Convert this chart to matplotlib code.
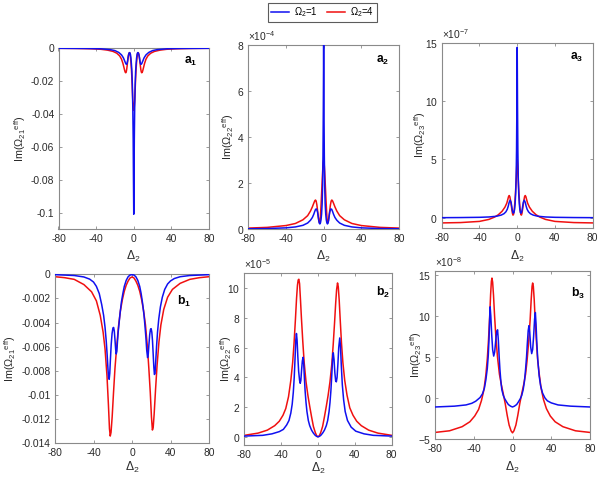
import matplotlib
matplotlib.use("Agg")
import matplotlib.pyplot as plt
from matplotlib.ticker import FixedLocator, FuncFormatter

plt.rcParams['font.family'] = ['Liberation Sans', 'DejaVu Sans']
plt.rcParams['mathtext.fontset'] = 'custom'
plt.rcParams['mathtext.rm'] = 'Liberation Sans'
plt.rcParams['mathtext.it'] = 'Liberation Sans:italic'
plt.rcParams['mathtext.bf'] = 'Liberation Sans:bold'
plt.rcParams['axes.unicode_minus'] = False

# ---------------- data ----------------
x_ticks = [-80, -40, 0, 40, 80]
series_labels = [r'$\Omega_2$=1', r'$\Omega_2$=4']

# a1 : Im(Omega21 eff)
a1_blue = [(-80, 0), (-50, -0.0001), (-35, -0.0003), (-25, -0.0008), (-20, -0.0014), (-16, -0.0025),
           (-13, -0.0040), (-11, -0.0058), (-10, -0.0072), (-9, -0.0086), (-8.5, -0.0093), (-8, -0.0097),
           (-7.5, -0.0097), (-7, -0.0090), (-6.5, -0.0075), (-6, -0.0056), (-5.5, -0.0040), (-5, -0.0030),
           (-4.5, -0.0026), (-4, -0.0028), (-3.5, -0.0038), (-3, -0.0060), (-2.5, -0.0095), (-2, -0.0140),
           (-1.5, -0.0220), (-1, -0.0360), (-0.6, -0.0550), (-0.3, -0.0800), (0, -0.1010),
           (0.3, -0.0800), (0.6, -0.0550), (1, -0.0360), (1.5, -0.0220), (2, -0.0140), (2.5, -0.0095),
           (3, -0.0060), (3.5, -0.0038), (4, -0.0028), (4.5, -0.0026), (5, -0.0030), (5.5, -0.0040),
           (6, -0.0056), (6.5, -0.0075), (7, -0.0090), (7.5, -0.0097), (8, -0.0097), (8.5, -0.0093),
           (9, -0.0086), (10, -0.0072), (11, -0.0058), (13, -0.0040), (16, -0.0025), (20, -0.0014),
           (25, -0.0008), (35, -0.0003), (50, -0.0001), (80, 0)]
a1_red = [(-80, 0), (-60, -0.0001), (-45, -0.0003), (-35, -0.0006), (-28, -0.0011), (-22, -0.0019),
          (-18, -0.0030), (-15, -0.0046), (-13, -0.0066), (-11.5, -0.0092), (-10.5, -0.0115), (-9.5, -0.0138),
          (-9, -0.0146), (-8.5, -0.0149), (-8, -0.0144), (-7.5, -0.0128), (-7, -0.0105), (-6.5, -0.0078),
          (-6, -0.0055), (-5.5, -0.0038), (-5, -0.0029), (-4.5, -0.0027), (-4, -0.0033), (-3.5, -0.0055),
          (-3, -0.0085), (-2.5, -0.0125), (-2, -0.0180), (-1.5, -0.0250), (-1, -0.0320), (-0.5, -0.0360),
          (0, -0.0378),
          (0.5, -0.0360), (1, -0.0320), (1.5, -0.0250), (2, -0.0180), (2.5, -0.0125), (3, -0.0085),
          (3.5, -0.0055), (4, -0.0033), (4.5, -0.0027), (5, -0.0029), (5.5, -0.0038), (6, -0.0055),
          (6.5, -0.0078), (7, -0.0105), (7.5, -0.0128), (8, -0.0144), (8.5, -0.0149), (9, -0.0146),
          (9.5, -0.0138), (10.5, -0.0115), (11.5, -0.0092), (13, -0.0066), (15, -0.0046), (18, -0.0030),
          (22, -0.0019), (28, -0.0011), (35, -0.0006), (45, -0.0003), (60, -0.0001), (80, 0)]

# a2 : Im(Omega22 eff), units of 1e-4
a2_scale = 1e-4
a2_blue = [(-80, 0.01), (-60, 0.02), (-40, 0.05), (-30, 0.09), (-22, 0.16), (-17, 0.26), (-14, 0.38),
           (-12, 0.50), (-10.5, 0.64), (-9.5, 0.76), (-8.5, 0.86), (-7.5, 0.87), (-6.5, 0.74), (-5.8, 0.55),
           (-5.2, 0.37), (-4.6, 0.25), (-4, 0.22), (-3.4, 0.27), (-2.8, 0.40), (-2.2, 0.65), (-1.6, 1.1),
           (-1.1, 1.9), (-0.7, 3.2), (-0.35, 5.2), (0, 8.0),
           (0.35, 5.2), (0.7, 3.2), (1.1, 1.9), (1.6, 1.1), (2.2, 0.65), (2.8, 0.40), (3.4, 0.27), (4, 0.22),
           (4.6, 0.25), (5.2, 0.37), (5.8, 0.55), (6.5, 0.74), (7.5, 0.87), (8.5, 0.86), (9.5, 0.76),
           (10.5, 0.64), (12, 0.50), (14, 0.38), (17, 0.26), (22, 0.16), (30, 0.09), (40, 0.05), (60, 0.02),
           (80, 0.01)]
a2_red = [(-80, 0.04), (-60, 0.07), (-40, 0.15), (-30, 0.24), (-22, 0.40), (-17, 0.58), (-14, 0.78),
          (-12, 0.96), (-10.5, 1.12), (-9.5, 1.22), (-8.7, 1.26), (-8, 1.22), (-7.2, 1.05), (-6.4, 0.78),
          (-5.6, 0.50), (-5, 0.34), (-4.5, 0.28), (-4, 0.32), (-3.5, 0.50), (-3, 0.85), (-2.5, 1.25),
          (-2, 1.70), (-1.5, 2.15), (-1, 2.55), (-0.5, 2.88), (0, 3.0),
          (0.5, 2.88), (1, 2.55), (1.5, 2.15), (2, 1.70), (2.5, 1.25), (3, 0.85), (3.5, 0.50), (4, 0.32),
          (4.5, 0.28), (5, 0.34), (5.6, 0.50), (6.4, 0.78), (7.2, 1.05), (8, 1.22), (8.7, 1.26), (9.5, 1.22),
          (10.5, 1.12), (12, 0.96), (14, 0.78), (17, 0.58), (22, 0.40), (30, 0.24), (40, 0.15), (60, 0.07),
          (80, 0.04)]

# a3 : Im(Omega23 eff), units of 1e-7
a3_scale = 1e-7
a3_blue = [(-80, 0.0), (-60, 0.01), (-40, 0.03), (-30, 0.06), (-22, 0.12), (-17, 0.22), (-14, 0.34),
           (-12, 0.50), (-10.5, 0.72), (-9.5, 0.98), (-8.5, 1.32), (-7.5, 1.50), (-6.5, 1.32), (-5.8, 0.98),
           (-5.2, 0.65), (-4.6, 0.45), (-4, 0.38), (-3.4, 0.45), (-2.8, 0.70), (-2.2, 1.2), (-1.6, 2.1),
           (-1.1, 3.5), (-0.7, 5.8), (-0.35, 9.5), (0, 14.6),
           (0.35, 9.5), (0.7, 5.8), (1.1, 3.5), (1.6, 2.1), (2.2, 1.2), (2.8, 0.70), (3.4, 0.45), (4, 0.38),
           (4.6, 0.45), (5.2, 0.65), (5.8, 0.98), (6.5, 1.32), (7.5, 1.50), (8.5, 1.32), (9.5, 0.98),
           (10.5, 0.72), (12, 0.50), (14, 0.34), (17, 0.22), (22, 0.12), (30, 0.06), (40, 0.03), (60, 0.01),
           (80, 0.0)]
a3_red = [(-80, -0.45), (-60, -0.42), (-40, -0.32), (-30, -0.15), (-24, 0.05), (-20, 0.25), (-16, 0.55),
          (-13, 0.90), (-11, 1.25), (-10, 1.55), (-9.2, 1.80), (-8.5, 1.90), (-7.8, 1.80), (-7, 1.45),
          (-6.2, 1.00), (-5.5, 0.60), (-5, 0.35), (-4.5, 0.22), (-4, 0.25), (-3.5, 0.45), (-3, 0.80),
          (-2.5, 1.30), (-2, 1.90), (-1.5, 2.6), (-1, 3.4), (-0.5, 4.4), (0, 5.0),
          (0.5, 4.4), (1, 3.4), (1.5, 2.6), (2, 1.90), (2.5, 1.30), (3, 0.80), (3.5, 0.45), (4, 0.25),
          (4.5, 0.22), (5, 0.35), (5.5, 0.60), (6.2, 1.00), (7, 1.45), (7.8, 1.80), (8.5, 1.90), (9.2, 1.80),
          (10, 1.55), (11, 1.25), (13, 0.90), (16, 0.55), (20, 0.25), (24, 0.05), (30, -0.15), (40, -0.32),
          (60, -0.42), (80, -0.45)]

# b1 : Im(Omega21 eff), units of 1e-3
b1_scale = 1e-3
b1_blue = [(-80, -0.03), (-60, -0.1), (-50, -0.22), (-44, -0.4), (-40, -0.64), (-37, -1.0), (-34, -1.6),
           (-31.5, -2.5), (-29.5, -3.4), (-28, -4.4), (-26.8, -5.5), (-25.8, -6.7), (-25, -7.8), (-24.3, -8.6),
           (-23.7, -8.7), (-23.1, -8.2), (-22.4, -7.0), (-21.6, -5.8), (-20.7, -4.9), (-19.8, -4.45),
           (-19.1, -4.4), (-18.4, -4.7), (-17.7, -5.4), (-17.0, -6.2), (-16.4, -6.6), (-15.8, -6.4),
           (-15.2, -5.7), (-14.5, -4.9), (-13.5, -4.1), (-12.5, -3.3), (-11, -2.3), (-9.5, -1.6), (-8, -1.0),
           (-6, -0.5), (-4, -0.2), (-2, -0.06), (0, -0.03),
           (2, -0.06), (4, -0.2), (6, -0.5), (8, -1.0), (9.5, -1.6), (11, -2.4), (12.5, -3.4), (13.5, -4.3),
           (14.5, -5.3), (15.3, -6.3), (16.2, -6.9), (16.9, -6.6), (17.6, -5.8), (18.4, -5.0), (19.2, -4.55),
           (19.9, -4.5), (20.6, -4.8), (21.3, -5.5), (22.0, -6.6), (22.7, -7.7), (23.3, -8.3), (23.9, -8.2),
           (24.6, -7.3), (25.5, -6.0), (26.5, -4.8), (27.8, -3.7), (29.5, -2.7), (31.5, -1.9), (34, -1.25),
           (37, -0.8), (40, -0.55), (44, -0.35), (50, -0.2), (60, -0.1), (80, -0.03)]
b1_red = [(-80, -0.2), (-70, -0.28), (-60, -0.42), (-50, -0.85), (-42, -1.45), (-37, -2.2), (-33, -3.4),
          (-30, -4.8), (-28, -6.2), (-26, -8.4), (-24.5, -10.8), (-23.4, -12.8), (-22.6, -13.4),
          (-21.8, -13.1), (-20.6, -11.8), (-19.2, -9.8), (-17.7, -7.8), (-16, -6.1), (-14, -4.3), (-12, -3.0),
          (-10, -2.1), (-8, -1.4), (-6, -0.9), (-4, -0.55), (-2, -0.3), (0, -0.22),
          (2, -0.3), (4, -0.55), (6, -0.9), (8, -1.4), (10, -2.1), (12, -3.0), (14, -4.2), (16, -6.0),
          (17.5, -7.8), (19, -9.8), (20.2, -11.8), (21.2, -12.9), (22, -12.7), (23, -11.6), (24.5, -9.5),
          (26, -7.6), (28, -5.6), (30, -4.2), (33, -2.9), (37, -1.9), (42, -1.25), (50, -0.75), (60, -0.42),
          (70, -0.28), (80, -0.2)]

# b2 : Im(Omega22 eff), units of 1e-5
b2_scale = 1e-5
b2_blue = [(-80, 0.05), (-60, 0.1), (-50, 0.2), (-42, 0.35), (-37.6, 0.5), (-34, 0.8), (-31.5, 1.1),
           (-29.5, 1.6), (-28, 2.2), (-26.8, 3.0), (-25.8, 4.0), (-24.9, 5.3), (-24.1, 6.5), (-23.4, 6.95),
           (-22.7, 6.5), (-21.9, 5.4), (-21, 4.4), (-20, 3.8), (-19.3, 3.6), (-18.6, 3.8), (-17.8, 4.5),
           (-17, 5.1), (-16.2, 5.35), (-15.5, 4.9), (-14.8, 4.0), (-14, 3.1), (-13, 2.3), (-12, 1.7),
           (-10.5, 1.1), (-9, 0.75), (-7, 0.45), (-5, 0.25), (-3, 0.1), (-1.5, 0.03), (0, 0.0),
           (1.5, 0.03), (3, 0.1), (5, 0.25), (7, 0.45), (9, 0.75), (10.5, 1.1), (12, 1.7), (13, 2.3), (14, 3.1),
           (15, 4.2), (15.8, 5.2), (16.6, 5.65), (17.4, 5.2), (18.3, 4.3), (19.2, 3.75), (19.9, 3.7),
           (20.7, 4.0), (21.6, 4.9), (22.5, 6.0), (23.6, 6.65), (24.4, 6.1), (25.3, 4.8), (26.4, 3.5),
           (27.8, 2.5), (29.5, 1.7), (32, 1.1), (36, 0.65), (41, 0.38), (50, 0.2), (60, 0.1), (80, 0.05)]
b2_red = [(-80, 0.1), (-65, 0.25), (-55, 0.45), (-47, 0.75), (-42, 1.05), (-38, 1.45), (-35, 1.9), (-32, 2.7),
          (-29.5, 3.8), (-27.5, 5.0), (-26, 6.3), (-24.5, 7.9), (-23.3, 9.3), (-22.3, 10.2), (-21.5, 10.55),
          (-20.8, 10.6), (-20, 10.3), (-19, 9.2), (-18, 8.0), (-16.5, 6.4), (-15, 5.0), (-13, 3.7), (-11, 2.8),
          (-9, 2.05), (-7, 1.35), (-5, 0.7), (-3, 0.3), (-1.5, 0.08), (0, 0.0),
          (1.5, 0.08), (3, 0.3), (5, 0.7), (7, 1.35), (9, 2.05), (11, 2.8), (13, 3.7), (15, 4.9), (16.5, 6.2),
          (18, 7.7), (19.2, 9.0), (20.2, 9.9), (21.2, 10.35), (22, 10.1), (23, 9.2), (24, 8.0), (25.5, 6.3),
          (27, 5.0), (29, 3.8), (31.5, 2.8), (34.5, 1.95), (38, 1.45), (42, 1.05), (47, 0.75), (55, 0.45),
          (65, 0.25), (80, 0.1)]

# b3 : Im(Omega23 eff), units of 1e-8
b3_scale = 1e-8
b3_blue = [(-80, -1.1), (-60, -1.0), (-48, -0.85), (-42, -0.65), (-38, -0.4), (-35.5, -0.15), (-33.5, 0.05),
           (-31, 0.5), (-29, 1.2), (-27.5, 2.2), (-26, 3.6), (-25, 5.2), (-24.2, 7.3), (-23.6, 9.6),
           (-23.1, 11.1), (-22.4, 10.0), (-21.5, 7.8), (-20.5, 5.9), (-19.4, 5.1), (-18.4, 5.6), (-17.3, 7.0),
           (-16.3, 8.1), (-15.4, 8.3), (-14.6, 7.0), (-13.8, 5.1), (-13, 3.5), (-12, 2.0), (-11, 1.0),
           (-9.5, 0.3), (-8, -0.1), (-6, -0.5), (-4.3, -0.8), (-2, -1.0), (0, -1.1),
           (2, -1.0), (4.3, -0.8), (6, -0.5), (8, -0.1), (9.5, 0.3), (11, 1.0), (12.3, 2.0), (13.5, 3.5),
           (14.5, 5.0), (15.3, 6.6), (16.2, 8.2), (17, 8.8), (17.8, 8.0), (18.8, 6.2), (19.8, 5.4), (20.8, 5.9),
           (21.8, 7.5), (22.8, 9.6), (23.6, 10.4), (24.3, 9.0), (25, 7.0), (26, 4.8), (27.5, 2.7), (29, 1.5),
           (31, 0.6), (33.5, 0.0), (36, -0.35), (40, -0.6), (47, -0.85), (60, -1.0), (80, -1.1)]
b3_red = [(-80, -4.2), (-65, -4.0), (-52, -3.5), (-44, -2.9), (-39, -2.2), (-35, -1.4), (-32, -0.3),
          (-29.5, 1.0), (-27.5, 2.8), (-26, 4.8), (-24.8, 7.0), (-23.6, 9.8), (-22.6, 12.6), (-21.8, 14.2),
          (-21.2, 14.6), (-20.5, 14.1), (-19.6, 12.5), (-18.5, 10.0), (-17.2, 7.5), (-15.5, 5.0),
          (-13.5, 2.9), (-11.5, 1.6), (-9.5, 0.5), (-7.5, -0.7), (-5.5, -2.1), (-3.5, -3.3), (-1.5, -4.0),
          (0, -4.25),
          (1.5, -4.0), (3.5, -3.3), (5.5, -2.1), (7.5, -0.7), (9.5, 0.5), (11.5, 1.6), (13.5, 2.9), (15, 4.5),
          (16.8, 7.0), (18.2, 9.5), (19.3, 12.0), (20.2, 13.6), (20.8, 14.0), (21.5, 13.6), (22.4, 12.0),
          (23.4, 9.5), (24.6, 7.0), (26, 4.6), (27.5, 3.0), (29.5, 1.2), (32, -0.2), (35, -1.3), (39, -2.2),
          (44, -2.9), (52, -3.5), (65, -4.0), (80, -4.2)]

a1_yticks = [-0.1, -0.08, -0.06, -0.04, -0.02, 0]
a2_yticks = [0, 2, 4, 6, 8]
a3_yticks = [0, 5, 10, 15]
b1_yticks = [-14, -12, -10, -8, -6, -4, -2, 0]
b2_yticks = [0, 2, 4, 6, 8, 10]
b3_yticks = [-5, 0, 5, 10, 15]

# ---------------- figure ----------------
W, H = 600, 482
fig = plt.figure(figsize=(W / 100, H / 100), dpi=100)

BLUE = '#1010f0'
RED = '#f01010'
EDGE = '#8a8a8a'
TXT = '#2a2a2a'
FS = 7.4


def px_axes(l, t, r, b):
    return fig.add_axes([l / W, 1 - b / H, (r - l) / W, (b - t) / H])


def unzip(pts, scale=1.0):
    return [p[0] for p in pts], [p[1] * scale for p in pts]


panels = [
    dict(box=(58.5, 48.3, 209, 229), blue=a1_blue, red=a1_red, scale=1.0, ticks=a1_yticks,
         ylim=(-0.11, 0), exp=None, sub='21', tag='1', letter='a', tagpos=(0.88, 0.925), ylx=-0.255,
         xly=-0.15),
    dict(box=(248.3, 45, 399, 229), blue=a2_blue, red=a2_red, scale=a2_scale, ticks=a2_yticks,
         ylim=(0, 8), exp=-4, sub='22', tag='2', letter='a', tagpos=(0.89, 0.915), ylx=-0.135,
         xly=-0.147),
    dict(box=(441.7, 42.7, 592.7, 227.7), blue=a3_blue, red=a3_red, scale=a3_scale, ticks=a3_yticks,
         ylim=(-0.86, 15), exp=-7, sub='23', tag='3', letter='a', tagpos=(0.895, 0.918), ylx=-0.145,
         xly=-0.155),
    dict(box=(55, 274.3, 209, 443.3), blue=b1_blue, red=b1_red, scale=b1_scale, ticks=b1_yticks,
         ylim=(-14, 0), exp=None, sub='21', tag='1', letter='b', tagpos=(0.835, 0.838), ylx=-0.29,
         xly=-0.145),
    dict(box=(244.3, 273.3, 391.7, 445), blue=b2_blue, red=b2_red, scale=b2_scale, ticks=b2_yticks,
         ylim=(-0.55, 11), exp=-5, sub='22', tag='2', letter='b', tagpos=(0.94, 0.89), ylx=-0.125,
         xly=-0.135),
    dict(box=(435, 270.7, 590, 439), blue=b3_blue, red=b3_red, scale=b3_scale, ticks=b3_yticks,
         ylim=(-5, 15.5), exp=-8, sub='23', tag='3', letter='b', tagpos=(0.92, 0.867), ylx=-0.125,
         xly=-0.17),
]

handles = None
for p in panels:
    ax = px_axes(*p['box'])
    unit = p['scale']
    xb, yb = unzip(p['blue'], unit)
    xr, yr = unzip(p['red'], unit)
    lr, = ax.plot(xr, yr, color=RED, lw=1.1, zorder=2)
    lb, = ax.plot(xb, yb, color=BLUE, lw=1.1, zorder=3)
    if handles is None:
        handles = [lb, lr]
    ax.set_xlim(-80, 80)
    ax.xaxis.set_major_locator(FixedLocator(x_ticks))
    ax.set_ylim(p['ylim'][0] * unit, p['ylim'][1] * unit)
    ax.yaxis.set_major_locator(FixedLocator([t * unit for t in p['ticks']]))
    if p['exp'] is None:
        ax.yaxis.set_major_formatter(FuncFormatter(lambda v, pos: '%g' % round(v, 6)))
    else:
        ax.ticklabel_format(axis='y', style='sci', scilimits=(p['exp'], p['exp']), useMathText=True)
        ax.yaxis.get_offset_text().set_fontsize(FS)
        ax.yaxis.get_offset_text().set_color(TXT)
    ax.tick_params(direction='in', length=2.5, width=0.6, colors=EDGE, labelcolor=TXT,
                   labelsize=FS, top=True, right=True, pad=3.5)
    ax.tick_params(axis='y', pad=3.0)
    for s in ax.spines.values():
        s.set_color(EDGE)
        s.set_linewidth(0.8)
    ax.set_xlabel(r'$\Delta_2$', fontsize=FS + 1.3, color=TXT, va='center')
    ax.xaxis.set_label_coords(0.5, p['xly'])
    ax.set_ylabel(r'Im($\Omega_{%s}{}^{\mathrm{eff}}$)' % p['sub'], fontsize=FS + 0.4, color=TXT,
                  va='center')
    ax.yaxis.set_label_coords(p['ylx'], 0.5)
    ax.text(p['tagpos'][0], p['tagpos'][1], r'$\mathbf{%s}_{\mathbf{%s}}$' % (p['letter'], p['tag']),
            transform=ax.transAxes, ha='center', va='center', fontsize=FS + 1.3, color='black')

leg = fig.legend(handles, series_labels, loc='upper center', bbox_to_anchor=(322.5 / W, 1 - 2.5 / H),
                 ncol=2, fontsize=FS - 0.5, frameon=True, fancybox=False, handlelength=1.9,
                 handletextpad=0.5, columnspacing=1.0, borderpad=0.3, borderaxespad=0)
leg.get_frame().set_edgecolor('#333333')
leg.get_frame().set_linewidth(0.8)

fig.savefig('out.png', dpi=100)
